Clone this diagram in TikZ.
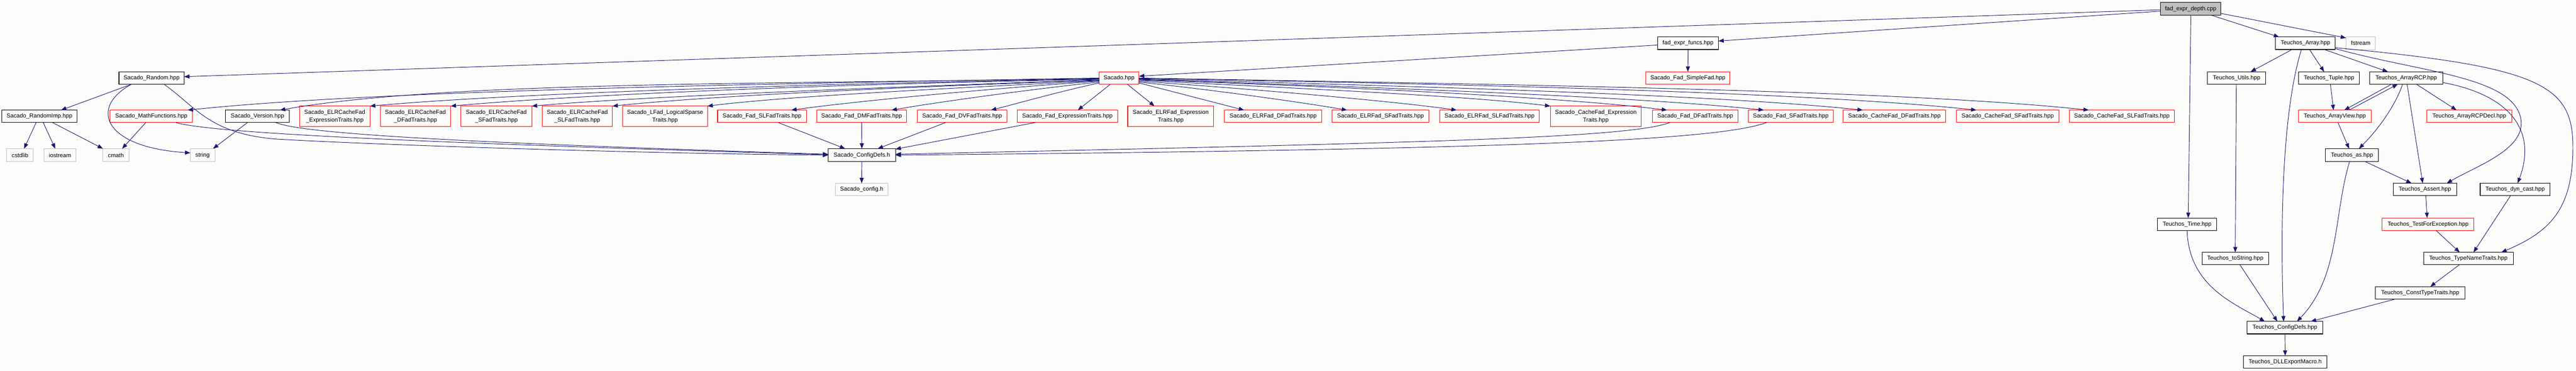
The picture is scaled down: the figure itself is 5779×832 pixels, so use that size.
\documentclass[tikz,border=0pt]{standalone}
\usepackage{fontspec}
\setmainfont{Liberation Sans}
\usetikzlibrary{arrows.meta,calc}
\definecolor{edgec}{RGB}{25,25,112}
\definecolor{bgc}{RGB}{252,253,250}
\definecolor{grayfill}{RGB}{191,191,191}
\definecolor{grayline}{RGB}{191,191,191}
\begin{document}
\begin{tikzpicture}[x=1pt,y=1pt,
  every node/.style={font=\fontsize{13}{17}\selectfont, inner sep=0pt, outer sep=0pt, align=center},
  nb/.style={draw=black, line width=1.3pt, minimum height=28pt},
  nr/.style={draw=red, line width=1.2pt, minimum height=28pt},
  ng/.style={draw=grayline, line width=1.2pt, minimum height=28pt},
  nrr/.style={nr, minimum height=46pt},
  edge/.style={draw=edgec, line width=1.1pt, -{Triangle[length=12pt,width=9pt]}},
]
\fill[bgc] (0,0) rectangle (5779,-832);
\useasboundingbox (0,0) rectangle (5779,-832);

% row 0
\node[nb, fill=grayfill, minimum width=135pt, minimum height=29pt] (depth) at (4914.5,-20) {fad\_expr\_depth.cpp};
% row 1
\node[nb, minimum width=136pt] (funcs) at (3787,-97) {fad\_expr\_funcs.hpp};
\node[nb, minimum width=134pt] (tarray) at (5172,-97) {Teuchos\_Array.hpp};
\node[ng, minimum width=66pt] (fstream) at (5296,-97) {fstream};
% row 2
\node[nb, minimum width=146pt] (random) at (340,-175) {Sacado\_Random.hpp};
\node[nr, minimum width=89pt] (sacado) at (2510.5,-175) {Sacado.hpp};
\node[nr, minimum width=189pt] (simplefad) at (3786.5,-175) {Sacado\_Fad\_SimpleFad.hpp};
\node[nb, minimum width=131pt] (tutils) at (5017.5,-175) {Teuchos\_Utils.hpp};
\node[nb, minimum width=136pt] (ttuple) at (5225,-175) {Teuchos\_Tuple.hpp};
\node[nb, minimum width=164pt] (tarcp) at (5398,-175) {Teuchos\_ArrayRCP.hpp};
% row 3
\node[nb, minimum width=169pt] (rimp) at (88.5,-261) {Sacado\_RandomImp.hpp};
\node[nr, minimum width=185pt] (math) at (339.5,-261) {Sacado\_MathFunctions.hpp};
\node[nb, minimum width=143pt] (version) at (577.5,-261) {Sacado\_Version.hpp};
\node[nrr, minimum width=158pt] (elrcfexpr) at (751,-261) {Sacado\_ELRCacheFad\\\_ExpressionTraits.hpp};
\node[nrr, minimum width=158pt] (elrcfdfad) at (932,-261) {Sacado\_ELRCacheFad\\\_DFadTraits.hpp};
\node[nrr, minimum width=159pt] (elrcfsfad) at (1113.5,-261) {Sacado\_ELRCacheFad\\\_SFadTraits.hpp};
\node[nrr, minimum width=158pt] (elrcfslfad) at (1295,-261) {Sacado\_ELRCacheFad\\\_SLFadTraits.hpp};
\node[nrr, minimum width=190pt] (lfad) at (1492,-261) {Sacado\_LFad\_LogicalSparse\\Traits.hpp};
\node[nr, minimum width=199pt] (fslfad) at (1709.5,-261) {Sacado\_Fad\_SLFadTraits.hpp};
\node[nr, minimum width=202pt] (fdmfad) at (1933,-261) {Sacado\_Fad\_DMFadTraits.hpp};
\node[nr, minimum width=201pt] (fdvfad) at (2158.5,-261) {Sacado\_Fad\_DVFadTraits.hpp};
\node[nr, minimum width=225pt] (fexpr) at (2394.5,-261) {Sacado\_Fad\_ExpressionTraits.hpp};
\node[nrr, minimum width=193pt] (elrfexpr) at (2626.5,-261) {Sacado\_ELRFad\_Expression\\Traits.hpp};
\node[nr, minimum width=218pt] (elrfdfad) at (2856,-261) {Sacado\_ELRFad\_DFadTraits.hpp};
\node[nr, minimum width=218pt] (elrfsfad) at (3097,-261) {Sacado\_ELRFad\_SFadTraits.hpp};
\node[nr, minimum width=223pt] (elrfslfad) at (3341.5,-261) {Sacado\_ELRFad\_SLFadTraits.hpp};
\node[nrr, minimum width=204pt] (cfexpr) at (3580,-261) {Sacado\_CacheFad\_Expression\\Traits.hpp};
\node[nr, minimum width=192pt] (fdfad) at (3803,-261) {Sacado\_Fad\_DFadTraits.hpp};
\node[nr, minimum width=191pt] (fsfad) at (4017.5,-261) {Sacado\_Fad\_SFadTraits.hpp};
\node[nr, minimum width=230pt] (cfdfad) at (4250,-261) {Sacado\_CacheFad\_DFadTraits.hpp};
\node[nr, minimum width=230pt] (cfsfad) at (4504,-261) {Sacado\_CacheFad\_SFadTraits.hpp};
\node[nr, minimum width=236pt] (cfslfad) at (4760,-261) {Sacado\_CacheFad\_SLFadTraits.hpp};
\node[nr, minimum width=164pt] (tav) at (5238,-261) {Teuchos\_ArrayView.hpp};
\node[nr, minimum width=191pt] (tarcpdecl) at (5539.5,-261) {Teuchos\_ArrayRCPDecl.hpp};
% row 4
\node[ng, minimum width=60pt, minimum height=29pt] (cstdlib) at (45,-348) {cstdlib};
\node[ng, minimum width=71pt, minimum height=29pt] (iostream) at (134.5,-348) {iostream};
\node[ng, minimum width=58pt, minimum height=29pt] (cmath) at (260,-348) {cmath};
\node[ng, minimum width=55pt, minimum height=29pt] (string) at (454.5,-348) {string};
\node[nb, minimum width=151pt, minimum height=29pt] (sconfigdefs) at (1933.5,-348) {Sacado\_ConfigDefs.h};
\node[nb, minimum width=119pt, minimum height=29pt] (tas) at (5276.5,-348) {Teuchos\_as.hpp};
% row 5
\node[ng, minimum width=118pt] (sconfig) at (1933,-425) {Sacado\_config.h};
\node[nb, minimum width=142pt] (tassert) at (5440,-425) {Teuchos\_Assert.hpp};
\node[nb, minimum width=157pt] (tdyn) at (5642.5,-425) {Teuchos\_dyn\_cast.hpp};
% row 6
\node[nb, minimum width=133pt] (ttime) at (4906.5,-503) {Teuchos\_Time.hpp};
\node[nr, minimum width=206pt] (ttfe) at (5447,-503) {Teuchos\_TestForException.hpp};
% row 7
\node[nb, minimum width=149pt] (ttostr) at (5014.5,-580) {Teuchos\_toString.hpp};
\node[nb, minimum width=201pt] (ttnt) at (5537.5,-580) {Teuchos\_TypeNameTraits.hpp};
% row 8
\node[nb, minimum width=201pt] (tctt) at (5429.5,-657) {Teuchos\_ConstTypeTraits.hpp};
% row 9
\node[nb, minimum width=170pt] (tcfg) at (5126,-735) {Teuchos\_ConfigDefs.hpp};
% row 10
\node[nb, minimum width=187pt] (tdll) at (5126.5,-812) {Teuchos\_DLLExportMacro.h};

% ---- edges from fad_expr_depth.cpp
\draw[edge] ([yshift=-2pt]depth.west) -- ([yshift=3pt]random.east);
\draw[edge] ([yshift=-5pt]depth.west) -- ([yshift=5pt]funcs.east);
\draw[edge] ([xshift=0.5pt]depth.south) -- ([xshift=2.5pt]ttime.north);
\draw[edge] ([xshift=47.5pt]depth.south) -- ([xshift=8pt]tarray.north west);
\draw[edge] ([yshift=-10pt]depth.east) -- ([yshift=-2pt]fstream.north west);

% ---- fad_expr_funcs.hpp
\draw[edge] ([yshift=-4pt]funcs.west) -- ([yshift=4pt]sacado.east);
\draw[edge] (funcs.south) -- (simplefad.north);

% ---- Sacado.hpp to the left
\draw[edge] ([yshift=0pt]sacado.west) .. controls (1648,-189) and (830,-204) .. ([xshift=-11pt]math.north east);
\draw[edge] ([yshift=-1pt]sacado.west) .. controls (1731,-189) and (996,-182) .. ([xshift=-21pt]version.north east);
\draw[edge] ([yshift=-2pt]sacado.west) .. controls (1812,-188) and (1157,-209) .. (elrcfexpr.north east);
\draw[edge] ([yshift=-3pt]sacado.west) .. controls (1884,-188) and (1302,-212) .. (elrcfdfad.north east);
\draw[edge] ([yshift=-4pt]sacado.west) .. controls (1957,-197) and (1448,-216) .. (elrcfsfad.north east);
\draw[edge] ([yshift=-5pt]sacado.west) .. controls (2029,-195) and (1592,-215) .. (elrcfslfad.north east);
\draw[edge] ([yshift=-6pt]sacado.west) .. controls (2114,-199) and (1763,-216) .. (lfad.north east);
\draw[edge] ([yshift=-7pt]sacado.west) .. controls (2190,-201) and (1913,-228) .. ([xshift=-34pt]fslfad.north east);
\draw[edge] ([yshift=-9pt]sacado.west) .. controls (2280,-204) and (2093,-231) .. ([xshift=-34pt]fdmfad.north east);
\draw[edge] ([yshift=-11pt]sacado.west) .. controls (2369,-207) and (2272,-235) .. ([xshift=-36pt]fdvfad.north east);
% ---- Sacado.hpp downwards
\draw[edge] ([xshift=-19.5pt]sacado.south) -- ([xshift=23.5pt]fexpr.north);
\draw[edge] ([xshift=18.5pt]sacado.south) -- ([xshift=-36.5pt]elrfexpr.north);
% ---- Sacado.hpp to the right
\draw[edge] ([yshift=-11pt]sacado.east) -- ([xshift=44pt]elrfdfad.north west);
\draw[edge] ([yshift=-9pt]sacado.east) .. controls (2742,-204) and (2929,-231) .. ([xshift=34pt]elrfsfad.north west);
\draw[edge] ([yshift=-7pt]sacado.east) .. controls (2840,-202) and (3125,-227) .. ([xshift=38pt]elrfslfad.north west);
\draw[edge] ([yshift=-5pt]sacado.east) .. controls (2924,-199) and (3293,-215) .. (cfexpr.north west);
\draw[edge] ([yshift=-4pt]sacado.east) .. controls (3029,-195) and (3503,-218) .. ([xshift=33pt]fdfad.north west);
\draw[edge] ([yshift=-3pt]sacado.east) .. controls (3116,-197) and (3677,-217) .. ([xshift=35pt]fsfad.north west);
\draw[edge] ([yshift=-2pt]sacado.east) .. controls (3205,-194) and (3854,-213) .. ([xshift=44pt]cfdfad.north west);
\draw[edge] ([yshift=-1pt]sacado.east) .. controls (3307,-189) and (4058,-207) .. ([xshift=45pt]cfsfad.north west);
\draw[edge] ([yshift=0pt]sacado.east) .. controls (3407,-190) and (4260,-202) .. ([xshift=44pt]cfslfad.north west);

% ---- into Sacado_ConfigDefs.h
\draw[edge] ([xshift=36.5pt]fslfad.south) -- ([xshift=-37.5pt]sconfigdefs.north);
\draw[edge] (fdmfad.south) -- (sconfigdefs.north);
\draw[edge] ([xshift=-37.5pt]fdvfad.south) -- ([xshift=35.5pt]sconfigdefs.north);
\draw[edge] ([xshift=-72.5pt]fexpr.south) -- ([yshift=-1pt]sconfigdefs.north east);
\draw[edge] ([xshift=-57pt]fdfad.south) .. controls (3650,-310) and (3200,-320) .. ([yshift=2pt]sconfigdefs.east);
\draw[edge] ([xshift=-54.5pt]fsfad.south) .. controls (3850,-315) and (3400,-335) .. ([yshift=0pt]sconfigdefs.east);
\draw[edge] ([xshift=55.5pt]math.south) .. controls (480,-300) and (1000,-322) .. ([yshift=1pt]sconfigdefs.west);
\draw[edge] ([xshift=41.5pt]version.south) .. controls (690,-305) and (1200,-325) .. ([yshift=2pt]sconfigdefs.west);
\draw[edge] ([xshift=28pt]random.south) .. controls (440,-240) and (470,-300) .. (620,-312)
   .. controls (900,-328) and (1500,-345) .. ([yshift=0pt]sconfigdefs.west);
\draw[edge] (sconfigdefs.south) -- (sconfig.north);

% ---- Sacado_Random and friends
\draw[edge] ([xshift=-45pt]random.south) -- ([xshift=48.5pt]rimp.north);
\draw[edge] ([xshift=-45pt]random.south) .. controls (200,-240) and (230,-330) .. ([yshift=5pt]string.west);
\draw[edge] ([xshift=-7.5pt]rimp.south) -- ([xshift=9pt]cstdlib.north);
\draw[edge] ([xshift=8.5pt]rimp.south) -- ([xshift=-10.5pt]iostream.north);
\draw[edge] ([xshift=29.5pt]rimp.south) -- (cmath.north west);
\draw[edge] ([xshift=-12.5pt]math.south) -- ([xshift=14pt]cmath.north);
\draw[edge] ([xshift=-22.5pt]version.south) -- ([xshift=23.5pt]string.north);

% ---- Teuchos
\draw[edge] ([xshift=-30pt]tarray.south) -- ([xshift=31.5pt]tutils.north);
\draw[edge] ([xshift=-9pt]tarray.south) .. controls (5120,-250) and (5115,-500) .. ([xshift=-3pt]tcfg.north);
\draw[edge] ([xshift=9pt]tarray.south) -- ([xshift=-11pt]ttuple.north);
\draw[edge] ([xshift=42pt]tarray.south) -- ([xshift=-41pt]tarcp.north);
\draw[edge] ([yshift=-12pt]tarray.east) .. controls (5420,-160) and (5620,-170) .. (5652,-255)
   .. controls (5680,-330) and (5560,-370) .. ([xshift=49pt]tassert.north);
\draw[edge] ([yshift=-10pt]tarray.east) .. controls (5700,-150) and (5772,-190) .. (5772,-330)
   .. controls (5772,-470) and (5720,-520) .. ([xshift=74pt]ttnt.north);
\draw[edge] ([xshift=-0.5pt]tutils.south) -- (ttostr.north);
\draw[edge] ([xshift=3pt]ttuple.south) -- ([xshift=-3pt]tav.north);
\draw[edge] ([xshift=-33pt]tarcp.south) -- ([xshift=21pt]tav.north);
\draw[edge] ([xshift=32pt]tav.north) -- ([xshift=-19pt]tarcp.south);
\draw[edge] ([xshift=-8pt]tarcp.south) .. controls (5372,-240) and (5335,-290) .. ([xshift=15.5pt]tas.north);
\draw[edge] ([xshift=2pt]tarcp.south) -- ([xshift=-5pt]tassert.north);
\draw[edge] ([xshift=23pt]tarcp.south) -- ([xshift=-28.5pt]tarcpdecl.north);
\draw[edge] ([yshift=-10pt]tarcp.east) .. controls (5640,-215) and (5690,-300) .. ([xshift=5.5pt]tdyn.north);
\draw[edge] ([xshift=7pt]tav.south) -- ([xshift=-6.5pt]tas.north);
\draw[edge] ([xshift=29.5pt]tas.south) -- ([xshift=-30pt]tassert.north);
\draw[edge] ([xshift=-5.5pt]tas.south) .. controls (5235,-480) and (5250,-620) .. ([xshift=27pt]tcfg.north);
\draw[edge] ([xshift=2pt]tassert.south) -- ([xshift=-2pt]ttfe.north);
\draw[edge] ([xshift=-10.5pt]tdyn.south) -- ([xshift=11.5pt]ttnt.north);
\draw[edge] ([xshift=18pt]ttfe.south) -- ([xshift=-19.5pt]ttnt.north);
\draw[edge] ([xshift=-20.5pt]ttnt.south) -- ([xshift=22.5pt]tctt.north);
\draw[edge] ([xshift=-56.5pt]tctt.south) -- ([xshift=58pt]tcfg.north);
\draw[edge] (ttime.south) .. controls (4910,-640) and (5010,-680) .. ([xshift=-45pt]tcfg.north);
\draw[edge] ([xshift=10.5pt]ttostr.south) -- ([xshift=-17pt]tcfg.north);
\draw[edge] (tcfg.south) -- (tdll.north);
\end{tikzpicture}
\end{document}
